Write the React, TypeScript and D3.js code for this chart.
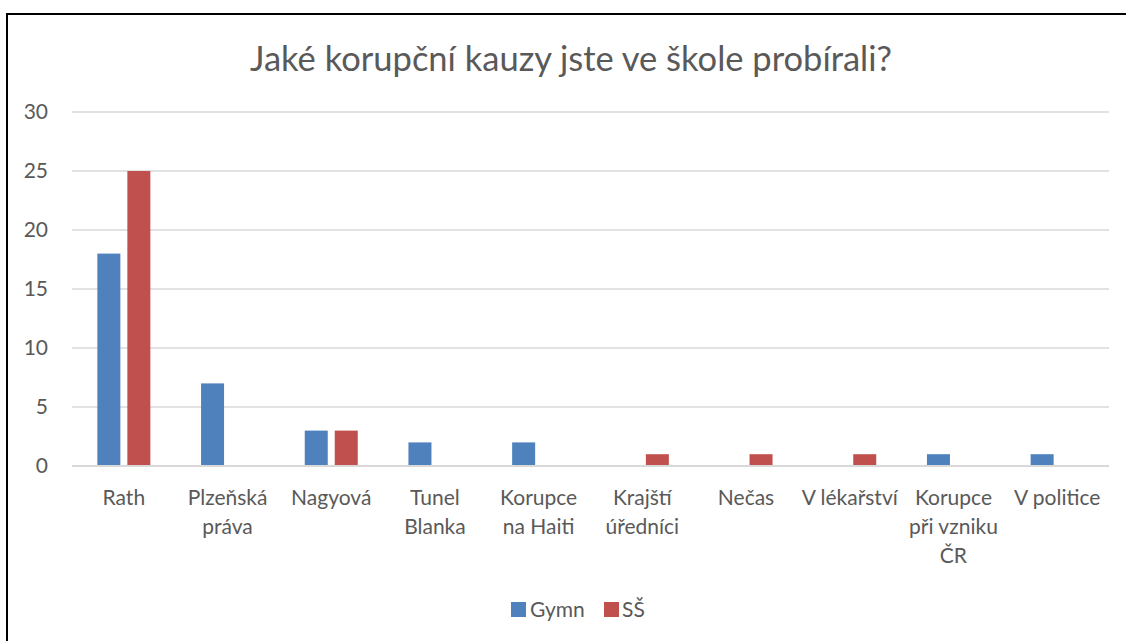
import React from "react";
import * as d3 from "d3";

const categories: string[][] = [
  ["Rath"],
  ["Plzeňská", "práva"],
  ["Nagyová"],
  ["Tunel", "Blanka"],
  ["Korupce", "na Haiti"],
  ["Krajští", "úředníci"],
  ["Nečas"],
  ["V lékařství"],
  ["Korupce", "při vzniku", "ČR"],
  ["V politice"],
];
const gymnValues = [18, 7, 3, 2, 2, 0, 0, 0, 1, 1];
const ssValues = [25, 0, 3, 0, 0, 1, 1, 1, 0, 0];
const seriesNames = ["Gymn", "SŠ"];
const seriesColors = ["#4f81bd", "#c0504d"];
const yTicks = [0, 5, 10, 15, 20, 25, 30];
const title = "Jaké korupční kauzy jste ve škole probírali?";

export default function App() {
  const W = 1126, H = 641;
  const left = 72, right = 1109, top = 112, bottom = 466;
  const font = "Lato, 'Open Sans', sans-serif";
  const textColor = "#595959";
  const x = d3.scaleBand<number>().domain(d3.range(categories.length)).range([left, right]);
  const y = d3.scaleLinear().domain([0, 30]).range([bottom, top]);
  const barW = 23, gap = 7;
  const series = [gymnValues, ssValues];
  return (
    <svg width={W} height={H} style={{ position: "absolute", left: 0, top: 0, background: "#fff" }}>
      <rect x={7} y={14} width={W} height={H} fill="#fff" stroke="#000" strokeWidth={2} />
      <text x={571} y={71} textAnchor="middle" fontFamily={font} fontSize={34.5} fill={textColor}>{title}</text>
      {yTicks.map((t) => (
        <g key={t}>
          <line x1={left} x2={right} y1={y(t)} y2={y(t)} stroke="#d9d9d9" strokeWidth={t === 0 ? 2 : 1.5} />
          <text x={48} y={y(t) + 7} textAnchor="end" fontFamily={font} fontSize={21} fill={textColor}>{t}</text>
        </g>
      ))}
      {categories.map((c, i) => {
        const cx = (x(i) as number) + x.bandwidth() / 2;
        return (
          <g key={i}>
            {series.map((vals, s) => {
              const bx = cx - gap / 2 - barW + s * (barW + gap);
              return vals[i] > 0 ? (
                <rect key={s} x={bx} y={y(vals[i])} width={barW} height={y(0) - y(vals[i]) - 1} fill={seriesColors[s]} />
              ) : null;
            })}
            {c.map((line, k) => (
              <text key={k} x={cx} y={505 + k * 29} textAnchor="middle" fontFamily={font} fontSize={21} fill={textColor}>{line}</text>
            ))}
          </g>
        );
      })}
      <g>
        <rect x={511} y={602} width={15} height={15} fill={seriesColors[0]} />
        <text x={530} y={617} fontFamily={font} fontSize={21} fill={textColor}>{seriesNames[0]}</text>
        <rect x={604} y={602} width={15} height={15} fill={seriesColors[1]} />
        <text x={622} y={617} fontFamily={font} fontSize={21} fill={textColor}>{seriesNames[1]}</text>
      </g>
    </svg>
  );
}
